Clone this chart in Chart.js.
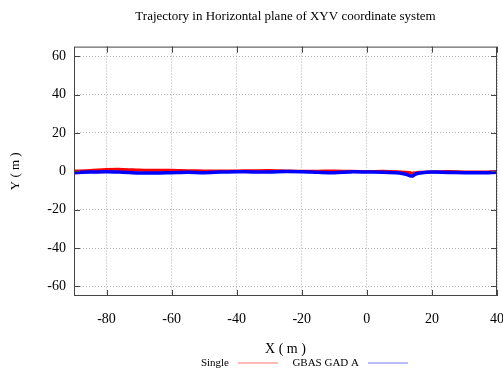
<!DOCTYPE html>
<html>
<head>
<meta charset="utf-8">
<script src="https://cdn.jsdelivr.net/npm/chart.js@4"></script>
<style>
  body { margin: 0; background: #fff; }
  #wrap { width: 503px; height: 371px; }
</style>
</head>
<body>
<div id="wrap"><canvas id="chart" width="503" height="371"></canvas></div>
<script>
// Trajectory samples (metres)
const singleX = [-90, -85, -80, -75, -70, -65, -60, -55, -50, -45, -40, -35, -30, -25, -20, -15, -10, -5, 0, 5, 10, 13, 14, 16, 20, 25, 30, 35, 40];
const singleY = [0.1, 0.4, 0.9, 1.0, 0.7, 0.5, 0.5, 0.3, 0.2, 0.1, 0.2, 0.3, 0.4, 0.2, 0.0, 0.0, 0.2, 0.0, -0.1, 0.0, -0.3, -0.6, -1.0, -0.5, -0.3, -0.1, -0.3, -0.4, -0.2];
const gbasX = [-90, -85, -80, -75, -70, -65, -60, -55, -50, -45, -40, -35, -30, -25, -20, -15, -10, -5, 0, 5, 10, 12, 14, 15, 17, 20, 25, 30, 35, 40];
const gbasY = [-0.7, -0.4, -0.2, -0.5, -0.9, -0.9, -0.7, -0.5, -0.7, -0.4, -0.2, -0.3, -0.3, -0.1, -0.2, -0.5, -0.7, -0.3, -0.4, -0.5, -0.9, -1.5, -2.5, -1.4, -0.7, -0.4, -0.6, -0.7, -0.8, -0.5];
const xTicks = [-80, -60, -40, -20, 0, 20, 40];
const yTicks = [-60, -40, -20, 0, 20, 40, 60];

const serif = '"Liberation Serif", "DejaVu Serif", serif';

function toPoints(xs, ys) {
    return xs.map((x, i) => ({ x: x, y: ys[i] }));
}

// gnuplot style frame with inward ticks and a text-then-line legend
const framePlugin = {
    id: 'frame',
    afterDraw(chart) {
        const ctx = chart.ctx;
        const a = chart.chartArea;
        const xs = chart.scales.x, ys = chart.scales.y;
        ctx.save();
        ctx.strokeStyle = '#444';
        ctx.lineWidth = 1;
        ctx.strokeRect(a.left + 0.5, a.top + 0.5, a.right - a.left - 1, a.bottom - a.top - 1);
        ctx.beginPath();
        xTicks.forEach(v => {
            const px = Math.round(xs.getPixelForValue(v)) + 0.5;
            ctx.moveTo(px, a.bottom); ctx.lineTo(px, a.bottom - 6);
            ctx.moveTo(px, a.top); ctx.lineTo(px, a.top + 6);
        });
        yTicks.forEach(v => {
            const py = Math.round(ys.getPixelForValue(v)) + 0.5;
            ctx.moveTo(a.left, py); ctx.lineTo(a.left + 6, py);
            ctx.moveTo(a.right, py); ctx.lineTo(a.right - 6, py);
        });
        ctx.stroke();

        // legend
        ctx.font = '11px ' + serif;
        ctx.textBaseline = 'middle';
        ctx.textAlign = 'right';
        const ly = 363;
        const items = [
            { text: chart.data.datasets[0].label, right: 229, color: '#ff7070' },
            { text: chart.data.datasets[1].label, right: 359, color: '#7878ff' }
        ];
        items.forEach(it => {
            ctx.fillStyle = '#000';
            ctx.fillText(it.text, it.right, ly);
            ctx.strokeStyle = it.color;
            ctx.lineWidth = 1;
            ctx.beginPath();
            ctx.moveTo(it.right + 9, ly);
            ctx.lineTo(it.right + 49, ly);
            ctx.stroke();
        });
        ctx.restore();
    }
};

new Chart(document.getElementById('chart'), {
    type: 'scatter',
    data: {
        datasets: [
            {
                label: 'Single',
                data: toPoints(singleX, singleY),
                showLine: true,
                borderColor: '#ff0000',
                borderWidth: 3,
                pointRadius: 0,
                tension: 0.3,
                order: 2
            },
            {
                label: 'GBAS GAD A',
                data: toPoints(gbasX, gbasY),
                showLine: true,
                borderColor: '#0000ff',
                borderWidth: 3.5,
                pointRadius: 0,
                tension: 0.3,
                order: 1
            }
        ]
    },
    options: {
        responsive: false,
        animation: false,
        layout: { padding: { left: 0, right: 6, top: 0, bottom: 0 } },
        plugins: {
            legend: { display: false },
            tooltip: { enabled: false },
            title: {
                display: true,
                fullSize: false,
                text: 'Trajectory in Horizontal plane of XYV coordinate system',
                color: '#000',
                font: { family: serif, size: 13, weight: 'normal', lineHeight: 1.2 },
                padding: { top: 9, bottom: 22 }
            }
        },
        scales: {
            x: {
                type: 'linear',
                min: -90,
                max: 40,
                afterFit(scale) {
                    scale.height = 75;
                    scale.paddingLeft = 0;
                    scale.paddingRight = 0;
                },
                afterBuildTicks(scale) {
                    scale.ticks = xTicks.map(v => ({ value: v }));
                },
                grid: {
                    color: '#b0b0b0',
                    drawTicks: false
                },
                border: { display: false, dash: [1, 2] },
                ticks: {
                    color: '#000',
                    padding: 15,
                    maxRotation: 0,
                    font: { family: serif, size: 14 }
                },
                title: {
                    display: true,
                    text: 'X ( m )',
                    color: '#000',
                    font: { family: serif, size: 14, lineHeight: 1.2 },
                    padding: { top: 0, bottom: 13 }
                }
            },
            y: {
                type: 'linear',
                min: -65,
                max: 65,
                afterFit(scale) {
                    scale.width = 74;
                },
                afterBuildTicks(scale) {
                    scale.ticks = yTicks.map(v => ({ value: v }));
                },
                grid: {
                    color: '#b0b0b0',
                    drawTicks: false
                },
                border: { display: false, dash: [1, 2] },
                ticks: {
                    color: '#000',
                    padding: 8,
                    font: { family: serif, size: 14 }
                },
                title: {
                    display: true,
                    text: 'Y ( m )',
                    color: '#000',
                    font: { family: serif, size: 13, lineHeight: 1.2 },
                    padding: { top: 8, bottom: 0 }
                }
            }
        }
    },
    plugins: [framePlugin]
});
</script>
</body>
</html>
